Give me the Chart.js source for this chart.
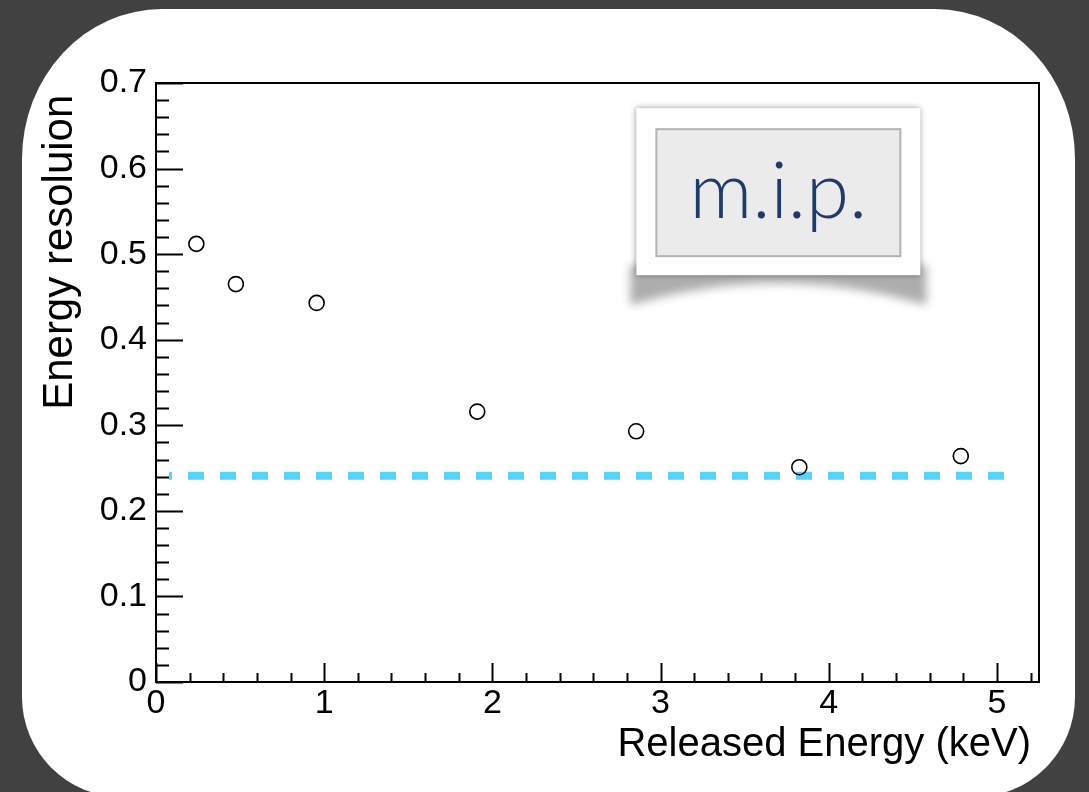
<!DOCTYPE html>
<html>
<head>
<meta charset="utf-8">
<script src="https://cdn.jsdelivr.net/npm/chart.js@4/dist/chart.umd.min.js"></script>
<style>
  html, body { margin: 0; padding: 0; background: #414141; overflow: hidden; }
  #card {
    position: absolute; left: 22px; top: 9px; width: 1053px; height: 788px;
    background: #fff;
    border-radius: 140px 140px 100px 100px / 150px 150px 100px 100px;
  }
  #wrap { position: absolute; left: 0; top: 0; width: 1089px; height: 792px; }
</style>
</head>
<body>
<div id="card"></div>
<div id="wrap"><canvas id="myChart"></canvas></div>
<script>
// measured points (released energy in keV, energy resolution)
const energy = [0.24, 0.475, 0.955, 1.91, 2.855, 3.825, 4.785];
const resolution = [0.512, 0.465, 0.443, 0.316, 0.293, 0.251, 0.264];

// m.i.p. reference level (dashed line)
const mipLevel = 0.241;
const mipRange = [0.077, 5.08];

const xTicks = [0, 1, 2, 3, 4, 5];
const yTicks = [0, 0.1, 0.2, 0.3, 0.4, 0.5, 0.6, 0.7];

const FONT = "'Liberation Sans', Arial, Helvetica, sans-serif";

// ROOT style frame with inward ticks + the m.i.p. label box
const frameAndLabel = {
    id: 'frameAndLabel',
    afterDraw(chart) {
        const ctx = chart.ctx;
        const a = chart.chartArea;
        const xs = chart.scales.x, ys = chart.scales.y;
        ctx.save();
        ctx.strokeStyle = '#000';
        ctx.lineWidth = 2;
        ctx.strokeRect(a.left, a.top, a.right - a.left, a.bottom - a.top);

        // x ticks, minor every 0.2
        for (let i = 0; i * 0.2 <= xs.max + 1e-9; i++) {
            const px = Math.round(xs.getPixelForValue(i * 0.2)) + 0.5;
            const len = (i % 5 === 0) ? 19 : 9;
            ctx.beginPath();
            ctx.moveTo(px, a.bottom);
            ctx.lineTo(px, a.bottom - len);
            ctx.stroke();
        }
        // y ticks, minor every 0.02
        for (let i = 0; i * 0.02 <= ys.max + 1e-9; i++) {
            const py = Math.round(ys.getPixelForValue(i * 0.02)) + 0.5;
            const len = (i % 5 === 0) ? 27 : 13;
            ctx.beginPath();
            ctx.moveTo(a.left, py);
            ctx.lineTo(a.left + len, py);
            ctx.stroke();
        }

        // label box
        const w = a.right - a.left, h = a.bottom - a.top;
        const bx = a.left + w * 0.544, by = a.top + h * 0.042;
        const bw = 284, bh = 167;

        // curled shadow under the box
        ctx.save();
        ctx.filter = 'blur(5px)';
        ctx.fillStyle = 'rgba(0,0,0,0.32)';
        ctx.beginPath();
        ctx.moveTo(bx - 6, by + bh - 10);
        ctx.lineTo(bx + bw + 6, by + bh - 10);
        ctx.lineTo(bx + bw + 6, by + bh + 30);
        ctx.quadraticCurveTo(bx + bw / 2, by + bh - 14, bx - 6, by + bh + 30);
        ctx.closePath();
        ctx.fill();
        ctx.restore();

        ctx.save();
        ctx.shadowColor = 'rgba(0,0,0,0.4)';
        ctx.shadowBlur = 6;
        ctx.fillStyle = '#fff';
        ctx.fillRect(bx, by, bw, bh);
        ctx.restore();

        ctx.fillStyle = '#ebebeb';
        ctx.fillRect(bx + 20, by + 21, bw - 40, bh - 40);
        ctx.strokeStyle = '#b3b3b3';
        ctx.lineWidth = 2;
        ctx.strokeRect(bx + 20, by + 21, bw - 40, bh - 40);

        ctx.fillStyle = '#1f3b6d';
        ctx.font = "300 78px Lato, 'Open Sans', sans-serif";
        ctx.textAlign = 'center';
        ctx.textBaseline = 'alphabetic';
        ctx.fillText('m.i.p.', bx + bw / 2, by + 110);
        ctx.restore();
    }
};

const ctx = document.getElementById('myChart').getContext('2d');

const myChart = new Chart(ctx, {
    type: 'scatter',
    data: {
        datasets: [{
            label: 'resolution',
            data: energy.map((e, i) => ({x: e, y: resolution[i]})),
            pointStyle: 'circle',
            pointRadius: 7.5,
            pointHoverRadius: 7.5,
            borderColor: '#000',
            borderWidth: 1.6,
            backgroundColor: 'rgba(0,0,0,0)'
        }, {
            label: 'm.i.p.',
            data: mipRange.map(x => ({x: x, y: mipLevel})),
            showLine: true,
            borderColor: '#58d3fa',
            borderWidth: 8,
            borderDash: [16, 16],
            borderDashOffset: 13,
            borderCapStyle: 'butt',
            pointRadius: 0
        }]
    },
    options: {
        responsive: true,
        maintainAspectRatio: false,
        animation: false,
        layout: { padding: { top: 83, right: 50, left: 0, bottom: 0 } },
        plugins: { legend: { display: false }, tooltip: { enabled: false } },
        scales: {
            x: {
                type: 'linear',
                min: 0,
                max: 5.25,
                afterFit: s => { s.height = 110; },
                afterBuildTicks: s => { s.ticks = xTicks.map(v => ({value: v})); },
                grid: { display: false, drawTicks: false },
                border: { display: false },
                ticks: {
                    padding: 1,
                    color: '#000',
                    font: { family: FONT, size: 34 },
                    callback: v => String(v)
                },
                title: {
                    display: true,
                    text: 'Released Energy (keV)\u2009',
                    align: 'end',
                    color: '#000',
                    font: { family: FONT, size: 40 },
                    padding: { top: 0, bottom: 23 }
                }
            },
            y: {
                type: 'linear',
                min: 0,
                max: 0.7,
                afterFit: s => { s.width = 156; },
                afterBuildTicks: s => { s.ticks = yTicks.map(v => ({value: v})); },
                grid: { display: false, drawTicks: false },
                border: { display: false },
                ticks: {
                    padding: 9,
                    color: '#000',
                    font: { family: FONT, size: 34 },
                    callback: v => v === 0 ? '0' : v.toFixed(1)
                },
                title: {
                    display: true,
                    text: 'Energy resoluion\u00a0',
                    align: 'end',
                    color: '#000',
                    font: { family: FONT, size: 42 },
                    padding: { top: 35, bottom: 0 }
                }
            }
        }
    },
    plugins: [frameAndLabel]
});
</script>
</body>
</html>
